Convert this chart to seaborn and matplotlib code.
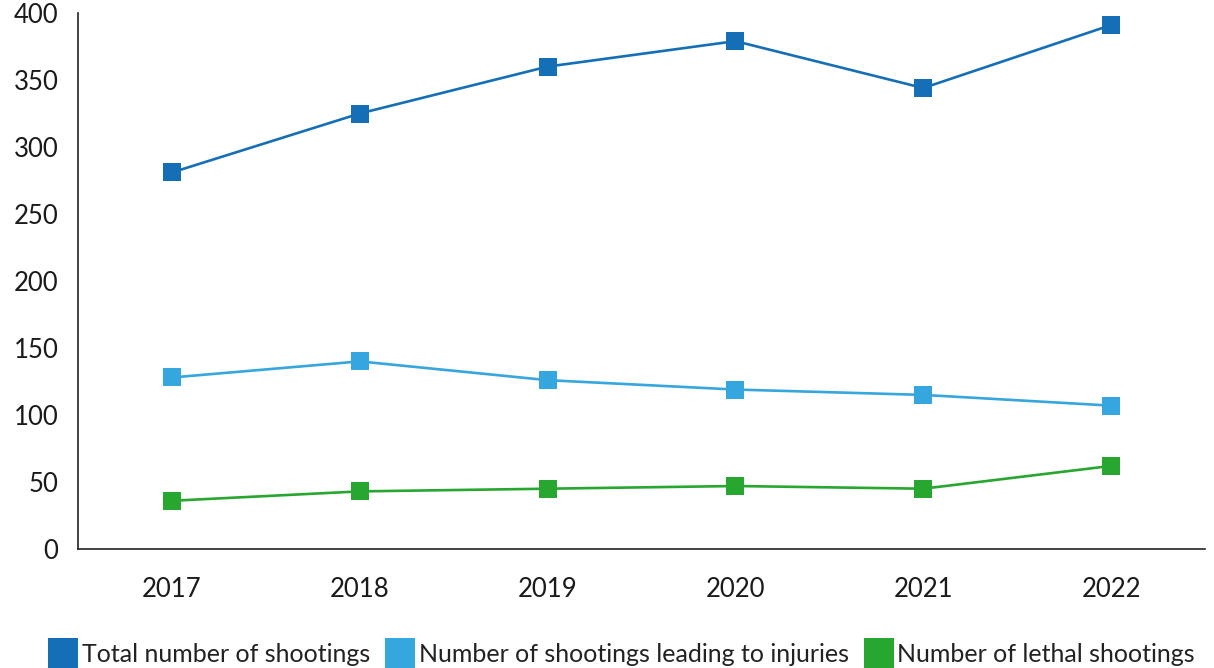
import matplotlib
matplotlib.use("Agg")
import matplotlib.pyplot as plt
from matplotlib.lines import Line2D
import seaborn as sns
import pandas as pd

years = ["2017", "2018", "2019", "2020", "2021", "2022"]
total = [281, 325, 360, 379, 344, 391]
injuries = [128, 140, 126, 119, 115, 107]
lethal = [36, 43, 45, 47, 45, 62]
series_names = ["Total number of shootings",
                "Number of shootings leading to injuries",
                "Number of lethal shootings"]
colors = ["#156fb6", "#35a6de", "#27a630"]

sns.set_theme(style="white")
plt.rcParams['font.family'] = ['Lato', 'DejaVu Sans']

rows = []
for name, vals in zip(series_names, [total, injuries, lethal]):
    for i, (y, v) in enumerate(zip(years, vals)):
        rows.append({"pos": i, "year": y, "value": v, "series": name})
df = pd.DataFrame(rows)

fig = plt.figure(figsize=(12.14, 6.68), dpi=100)
ax = fig.add_axes([78/1214, 1-549/668, (1205-78)/1214, (549-13)/668])

sns.lineplot(data=df, x="pos", y="value", hue="series", palette=colors,
             marker="s", markersize=12.5, markeredgewidth=0, linewidth=1.9,
             ax=ax, legend=False)

ax.set_xlim(-0.5, 5.5)
ax.set_ylim(0, 400)
ax.set_yticks(range(0, 401, 50))
ax.set_yticklabels([str(v) for v in range(0, 401, 50)], fontsize=18.5, color="#1a1a1a")
ax.set_xticks([i + 0.5 for i in range(6)])
ax.set_xticklabels([])
ax.set_xticks(range(6), minor=True)
ax.set_xticklabels(years, minor=True, fontsize=18.5, color="#1a1a1a")
ax.tick_params(axis="y", direction="in", length=20, width=1.2, color="#222222", pad=14)
ax.tick_params(axis="x", which="major", direction="in", length=10, width=1.2, color="#222222")
ax.tick_params(axis="x", which="minor", length=0, pad=20)
ax.set_xlabel("")
ax.set_ylabel("")
for s in ["top", "right"]:
    ax.spines[s].set_visible(False)
for s in ["left", "bottom"]:
    ax.spines[s].set_color("#222222")
    ax.spines[s].set_linewidth(1.2)

handles = [Line2D([0], [0], marker="s", linestyle="none", markersize=22,
                  markerfacecolor=c, markeredgewidth=0) for c in colors]
fig.legend(handles, series_names, loc="lower center", bbox_to_anchor=(0.513, -0.03),
           ncol=3, frameon=False, fontsize=18, handlelength=1.0, handletextpad=0.25,
           columnspacing=0.7, labelcolor="#222222")

fig.savefig("out.png", dpi=100)
